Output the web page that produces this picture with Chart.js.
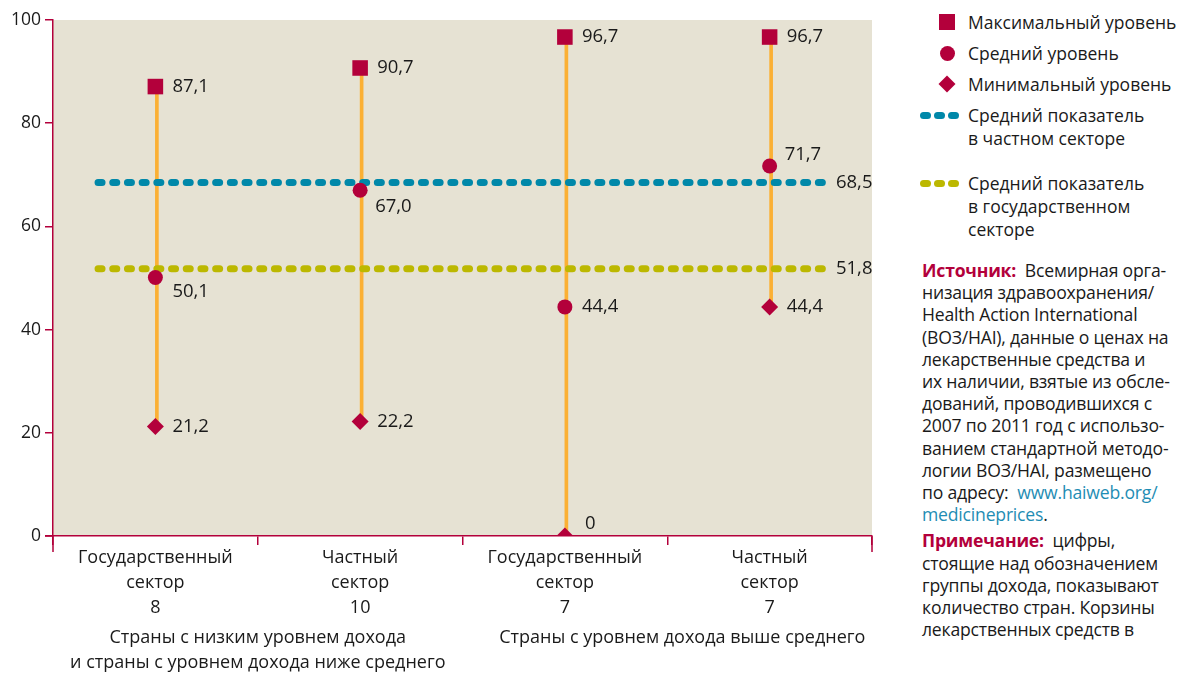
<!DOCTYPE html>
<html lang="ru">
<head>
<meta charset="utf-8">
<script src="https://cdn.jsdelivr.net/npm/chart.js@4/dist/chart.umd.min.js"></script>
<style>
  body { margin: 0; background: #fff; font-family: "Open Sans", sans-serif; color: #1a1a1a; }
  #wrap { position: relative; width: 1179px; height: 673px; overflow: hidden; }
  #chart { position: absolute; left: 0; top: 0; }
  .side { position: absolute; font-size: 17.6px; line-height: 22.2px; letter-spacing: -0.2px; }
  .lg { position: absolute; left: 968px; font-size: 17.5px; line-height: 23px; white-space: nowrap; }
  .sym { position: absolute; background: #b3003b; }
  .dot { position: absolute; width: 11px; height: 7px; border-radius: 4px; }
  .hl { color: #b3003b; font-weight: bold; }
  .url { color: #1f8db4; }
</style>
</head>
<body>
<div id="wrap">
  <canvas id="chart" width="890" height="673"></canvas>

  <div class="sym" style="left:939px;top:14px;width:16px;height:16px;"></div>
  <div class="lg" style="top:11px;">Максимальный уровень</div>
  <div class="sym" style="left:940px;top:46px;width:15px;height:15px;border-radius:50%;"></div>
  <div class="lg" style="top:42px;">Средний уровень</div>
  <div class="sym" style="left:941px;top:78px;width:12px;height:12px;transform:rotate(45deg);"></div>
  <div class="lg" style="top:73px;">Минимальный уровень</div>
  <div id="dotsPrivate"></div>
  <div class="lg" style="top:104px;">Средний показатель<br>в частном секторе</div>
  <div id="dotsPublic"></div>
  <div class="lg" style="top:172px;">Средний показатель<br>в государственном<br>секторе</div>

  <div class="side" style="left:922px;top:259px;width:257px;white-space:nowrap;">
    <span class="hl">Источник:</span>&nbsp; Всемирная орга-<br>
    низация здравоохранения/<br>
    Health Action International<br>
    (ВОЗ/HAI), данные о ценах на<br>
    лекарственные средства и<br>
    их наличии, взятые из обсле-<br>
    дований, проводившихся с<br>
    2007 по 2011 год с использо-<br>
    ванием стандартной методо-<br>
    логии ВОЗ/HAI, размещено<br>
    по адресу:&nbsp; <span class="url">www.haiweb.org/</span><br>
    <span class="url">medicineprices</span>.<br>
    <div style="margin-top:4px;"><span class="hl">Примечание:</span>&nbsp; цифры,<br>
    стоящие над обозначением<br>
    группы дохода, показывают<br>
    количество стран. Корзины<br>
    лекарственных средств в</div>
  </div>
</div>

<script>
// categories and values
const categories = [['Государственный', 'сектор'], ['Частный', 'сектор'], ['Государственный', 'сектор'], ['Частный', 'сектор']];
const countryCounts = ['8', '10', '7', '7'];
const groupLabels = [['Страны с низким уровнем дохода', 'и страны с уровнем дохода ниже среднего'], ['Страны с уровнем дохода выше среднего']];
const maxLevel = [87.1, 90.7, 96.7, 96.7];
const meanLevel = [50.1, 67.0, 44.4, 71.7];
const minLevel = [21.2, 22.2, 0, 44.4];
const privateAvg = [68.5];
const publicAvg = [51.8];
const yTicks = [0, 20, 40, 60, 80, 100];

const RED = '#b3003b';
const ORANGE = '#fbb034';
const TEAL = '#0088a9';
const OLIVE = '#bcb800';
const FONT = '"Open Sans", sans-serif';

// where the dotted average lines start and stop, on a 0..4 helper scale
const avgFrom = 0.22;
const avgTo = 3.78;

function fmt(v) {
  return v === 0 ? '0' : v.toFixed(1).replace('.', ',');
}

// swatches for the dotted legend lines
function legendDots(id, color, top) {
  const box = document.getElementById(id);
  for (let i = 0; i < 3; i++) {
    const d = document.createElement('div');
    d.className = 'dot';
    d.style.left = (920 + i * 14) + 'px';
    d.style.top = top + 'px';
    d.style.background = color;
    box.appendChild(d);
  }
}
legendDots('dotsPrivate', TEAL, 112);
legendDots('dotsPublic', OLIVE, 180);

// label offsets next to each marker
const labelShift = {
  max: [[17, 0], [17, 0], [17, 0], [17, 0]],
  mean: [[17, 14], [15, 16], [17, 0], [15, -11]],
  min: [[17, 0], [17, 0], [20, -12], [17, 0]]
};

const extras = {
  id: 'extras',
  afterDatasetsDraw(chart) {
    const ctx = chart.ctx;
    const x = chart.scales.x;
    const y = chart.scales.y;
    ctx.save();
    ctx.fillStyle = '#1a1a1a';
    ctx.font = '18.5px ' + FONT;
    ctx.textBaseline = 'middle';
    ctx.textAlign = 'left';
    [['max', 2], ['mean', 3], ['min', 4]].forEach(([key, di]) => {
      const meta = chart.getDatasetMeta(di);
      meta.data.forEach((pt, i) => {
        const v = chart.data.datasets[di].data[i];
        const [dx, dy] = labelShift[key][i];
        ctx.fillText(fmt(v), pt.x + dx, pt.y + dy);
      });
    });
    // average values at the end of dotted lines
    [[0, privateAvg[0]], [1, publicAvg[0]]].forEach(([di, v]) => {
      const meta = chart.getDatasetMeta(di);
      const last = meta.data[meta.data.length - 1];
      ctx.fillText(fmt(v), last.x + 9, last.y);
    });

    // axis stubs below the x axis
    ctx.strokeStyle = RED;
    ctx.lineWidth = 1.5;
    ctx.beginPath();
    ctx.moveTo(chart.chartArea.left, y.bottom);
    ctx.lineTo(chart.chartArea.left, y.bottom + 16);
    ctx.moveTo(chart.chartArea.right, y.bottom);
    ctx.lineTo(chart.chartArea.right, y.bottom + 16);
    ctx.moveTo(chart.chartArea.left - 8, y.bottom);
    ctx.lineTo(chart.chartArea.left, y.bottom);
    ctx.stroke();

    // country counts and income groups
    ctx.fillStyle = '#1a1a1a';
    ctx.textAlign = 'center';
    ctx.font = '18px ' + FONT;
    countryCounts.forEach((c, i) => {
      ctx.fillText(c, x.getPixelForValue(i), y.bottom + 72);
    });
    groupLabels[0].forEach((line, j) => {
      ctx.fillText(line, x.getPixelForValue(0.5), y.bottom + 102 + j * 25);
    });
    groupLabels[1].forEach((line, j) => {
      ctx.fillText(line, x.getPixelForValue(2.5) + 15, y.bottom + 102 + j * 25);
    });
    ctx.restore();
  }
};

const plotBg = {
  id: 'plotBg',
  beforeDraw(chart) {
    const a = chart.chartArea;
    chart.ctx.save();
    chart.ctx.fillStyle = '#e6e2d3';
    chart.ctx.fillRect(a.left, a.top, a.right - a.left, a.bottom - a.top);
    chart.ctx.restore();
  }
};

function avgLine(values, color) {
  return {
    type: 'line',
    xAxisID: 'x2',
    data: [{ x: avgFrom, y: values[0] }, { x: avgTo, y: values[0] }],
    borderColor: color,
    borderWidth: 7,
    borderDash: [4, 10.7],
    borderCapStyle: 'round',
    pointRadius: 0,
    order: 2
  };
}

function markers(values, style, radius) {
  return {
    type: 'line',
    data: values,
    showLine: false,
    pointStyle: style,
    pointRadius: radius,
    pointBackgroundColor: RED,
    pointBorderWidth: 0,
    order: 1
  };
}

new Chart(document.getElementById('chart'), {
  type: 'bar',
  data: {
    labels: categories,
    datasets: [
      avgLine(privateAvg, TEAL),
      avgLine(publicAvg, OLIVE),
      markers(maxLevel, 'rect', 11),
      markers(meanLevel, 'circle', 7.5),
      markers(minLevel, 'rectRot', 8.5),
      {
        type: 'bar',
        data: minLevel.map((v, i) => [v, maxLevel[i]]),
        backgroundColor: ORANGE,
        barThickness: 3,
        order: 3
      }
    ]
  },
  options: {
    responsive: false,
    devicePixelRatio: 1,
    animation: false,
    layout: { padding: { top: 20, right: 18, left: 0, bottom: 0 } },
    plugins: { legend: { display: false }, tooltip: { enabled: false } },
    scales: {
      x: {
        type: 'category',
        offset: true,
        border: { color: RED, width: 1.5 },
        grid: { display: true, drawOnChartArea: false, offset: true, color: RED, lineWidth: 1.5, tickLength: 9 },
        ticks: { color: '#1a1a1a', font: { family: FONT, size: 18, lineHeight: '25px' }, padding: 0, maxRotation: 0 },
        afterFit(scale) { scale.height = 137; }
      },
      x2: { type: 'linear', min: 0, max: 4, offset: false, display: false },
      y: {
        min: 0,
        max: 100,
        afterBuildTicks(scale) { scale.ticks = yTicks.map(v => ({ value: v })); },
        border: { color: RED, width: 1.5 },
        grid: { drawOnChartArea: false, color: RED, lineWidth: 1.5, tickLength: 8 },
        ticks: { color: '#1a1a1a', font: { family: FONT, size: 17.5 }, padding: 4 },
        afterFit(scale) { scale.width = 53; }
      }
    }
  },
  plugins: [plotBg, extras]
});
</script>
</body>
</html>
